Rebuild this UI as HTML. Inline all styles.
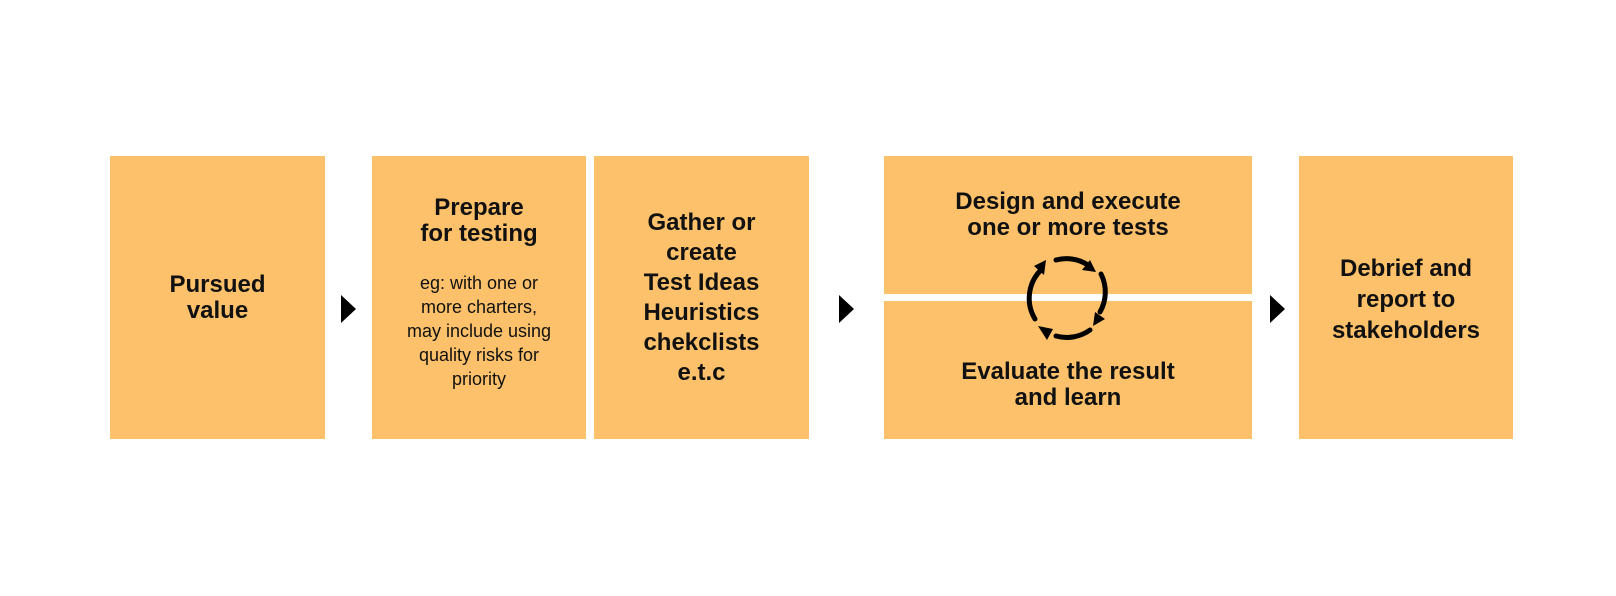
<!DOCTYPE html>
<html><head><style>
body{margin:0;width:1616px;height:596px;background:#fff;position:relative;font-family:"Liberation Sans",sans-serif;color:#111;overflow:hidden}
.b{position:absolute;background:#FCC16A;top:156px;height:283px;text-align:center;font-weight:bold}
.t{position:absolute;left:0;right:0;text-align:center;font-weight:bold;font-size:24px;white-space:nowrap}
.s{position:absolute;left:0;right:0;text-align:center;font-weight:normal;font-size:18px;line-height:24px;white-space:nowrap}
.a{position:absolute;width:0;height:0;border-top:14px solid transparent;border-bottom:14px solid transparent;border-left:15px solid #000;top:295px}
</style></head><body>
<div class="b" style="left:110px;width:215px"><div class="t" style="top:116px;line-height:26px">Pursued<br>value</div></div>
<div class="a" style="left:341px"></div>
<div class="b" style="left:372px;width:214px">
<div class="t" style="top:39px;line-height:26px">Prepare<br>for testing</div>
<div class="s" style="top:115px">eg: with one or<br>more charters,<br>may include using<br>quality risks for<br>priority</div></div>
<div class="b" style="left:594px;width:215px"><div class="t" style="top:52px;line-height:30px">Gather or<br>create<br>Test Ideas<br>Heuristics<br>chekclists<br>e.t.c</div></div>
<div class="a" style="left:839px"></div>
<div class="b" style="left:884px;width:368px;height:138px"><div class="t" style="top:33px;line-height:26px">Design and execute<br>one or more tests</div></div>
<div class="b" style="left:884px;width:368px;top:301px;height:138px"><div class="t" style="top:58px;line-height:26px">Evaluate the result<br>and learn</div></div>
<svg style="position:absolute;left:1018px;top:249px" width="100" height="100" viewBox="0 0 100 100">
<g fill="none" stroke="#000" stroke-width="5" stroke-linecap="round">
<path d="M38 11 A40 40 0 0 1 70 16"/>
<path d="M83 25 A40 40 0 0 1 82 63"/>
<path d="M72 81 A40 40 0 0 1 38 87"/>
<path d="M17 70 A40 40 0 0 1 24 20"/>
</g>
<g fill="#000">
<polygon points="78,23 64,21 72,11"/>
<polygon points="75,77 77,63 87,70"/>
<polygon points="20,77 35,80 29,91"/>
<polygon points="28,11 16,17 26,26"/>
</g></svg>
<div class="a" style="left:1270px"></div>
<div class="b" style="left:1299px;width:214px"><div class="t" style="top:97px;line-height:31px">Debrief and<br>report to<br>stakeholders</div></div>
</body></html>
